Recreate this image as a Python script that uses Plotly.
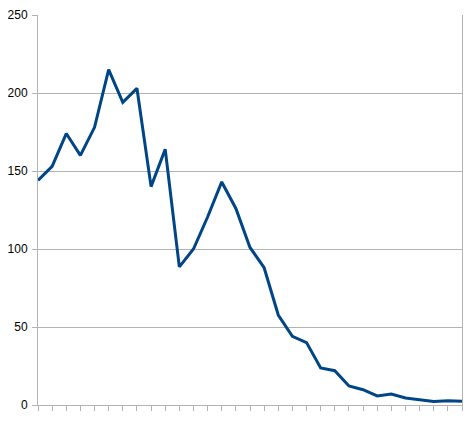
import plotly.graph_objects as go

categories = list(range(1, 32))
values = [144, 153, 174, 160, 178, 215, 194, 203, 140, 164, 88.5, 100, 120.5, 143, 126,
          101, 88, 57.7, 44, 40, 23.7, 22, 12.2, 9.8, 5.8, 7, 4.5, 3.5, 2.3, 2.8, 2.4]
y_ticks = [0, 50, 100, 150, 200, 250]

fig = go.Figure(go.Scatter(x=categories, y=values, mode="lines",
                           line=dict(color="#004586", width=3), showlegend=False))
fig.update_layout(
    width=476, height=423,
    margin=dict(l=30, r=22, t=7, b=26, autoexpand=False),
    paper_bgcolor="white", plot_bgcolor="white",
    font=dict(family="Liberation Sans, Arial, sans-serif", size=12, color="black"),
)
fig.update_xaxes(range=[1, 31], tickvals=categories, showticklabels=False,
                 ticks="outside", ticklen=5, tickcolor="#b3b3b3", tickwidth=1,
                 showline=True, linecolor="#b3b3b3", linewidth=1, showgrid=False,
                 zeroline=False, automargin=False)
fig.update_yaxes(range=[0, 250], tickvals=y_ticks, ticks="outside", ticklen=5,
                 tickcolor="#b3b3b3", showline=True, linecolor="#b3b3b3", linewidth=1,
                 mirror=True, showgrid=True, gridcolor="#b3b3b3", gridwidth=1,
                 zeroline=False, ticklabelstandoff=2, automargin=False)
fig.write_html("out.html")
